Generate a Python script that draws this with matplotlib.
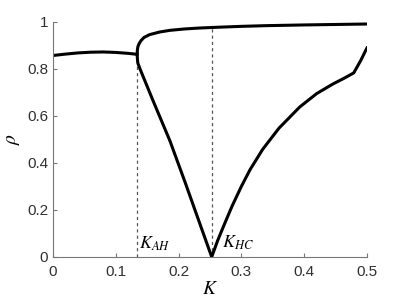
import matplotlib
matplotlib.use("Agg")
import matplotlib.pyplot as plt

plt.rcParams["mathtext.fontset"] = "stix"

# stable branch before K_AH
k_stable = [0.0, 0.02, 0.04, 0.06, 0.08, 0.10, 0.12, 0.134]
rho_stable = [0.857, 0.863, 0.868, 0.871, 0.872, 0.870, 0.866, 0.862]

# upper branch after K_AH
k_upper = [0.134, 0.1343, 0.1352, 0.137, 0.140, 0.145, 0.154, 0.17, 0.186, 0.21, 0.234, 0.27, 0.30, 0.34, 0.40, 0.45, 0.50]
rho_upper = [0.862, 0.880, 0.895, 0.907, 0.920, 0.934, 0.946, 0.957, 0.964, 0.970, 0.974, 0.978, 0.981, 0.984, 0.987, 0.989, 0.991]

# lower branch: down to K_HC then up
k_lower = [0.134, 0.1343, 0.135, 0.1385, 0.16, 0.186, 0.21, 0.234, 0.2527,
           0.262, 0.272, 0.285, 0.30, 0.314, 0.334, 0.36, 0.393, 0.42, 0.446, 0.465, 0.479, 0.49, 0.50]
rho_lower = [0.862, 0.845, 0.825, 0.800, 0.660, 0.495, 0.320, 0.140, 0.0,
             0.068, 0.133, 0.215, 0.300, 0.372, 0.458, 0.548, 0.638, 0.695, 0.736, 0.762, 0.783, 0.835, 0.889]

K_AH = 0.134
K_HC = 0.2527
rho_AH_top = 0.82
rho_HC_top = 0.974

xticks = [0, 0.1, 0.2, 0.3, 0.4, 0.5]
xticklabels = ["0", "0.1", "0.2", "0.3", "0.4", "0.5"]
yticks = [0, 0.2, 0.4, 0.6, 0.8, 1]
yticklabels = ["0", "0.2", "0.4", "0.6", "0.8", "1"]

fig = plt.figure(figsize=(4.05, 3.04), dpi=100)
ax = fig.add_axes([0.131, 0.155, 0.775, 0.773])

ax.plot([K_AH, K_AH], [0, rho_AH_top], ls=(0, (2.5, 2.5)), color="#555555", lw=0.9)
ax.plot([K_HC, K_HC], [0, rho_HC_top], ls=(0, (2.5, 2.5)), color="#555555", lw=0.9)

ax.plot(k_stable, rho_stable, color="black", lw=2.2, solid_capstyle="butt")
ax.plot(k_upper, rho_upper, color="black", lw=2.2)
ax.plot(k_lower, rho_lower, color="black", lw=2.2)

ax.set_xlim(0, 0.5)
ax.set_ylim(0, 1)
ax.set_xticks(xticks)
ax.set_xticklabels(xticklabels)
ax.set_yticks(yticks)
ax.set_yticklabels(yticklabels)
for s in ["top", "right"]:
    ax.spines[s].set_visible(False)
for s in ["left", "bottom"]:
    ax.spines[s].set_color("#777777")
    ax.spines[s].set_linewidth(0.8)
ax.tick_params(direction="in", length=3, color="#777777", labelsize=11, labelcolor="#303030")
ax.tick_params(axis="x", pad=6)
for lab in ax.get_xticklabels() + ax.get_yticklabels():
    lab.set_family("Liberation Sans")

ax.text(K_AH + 0.003, 0.035, r"$K_{AH}$", fontsize=13, va="baseline")
ax.text(0.2686, 0.038, r"$K_{HC}$", fontsize=13, va="baseline")

ax.set_xlabel(r"$K$", fontsize=14, labelpad=0)
ax.set_ylabel(r"$\rho$", fontsize=14, labelpad=4)

fig.savefig("out.png", dpi=100)
